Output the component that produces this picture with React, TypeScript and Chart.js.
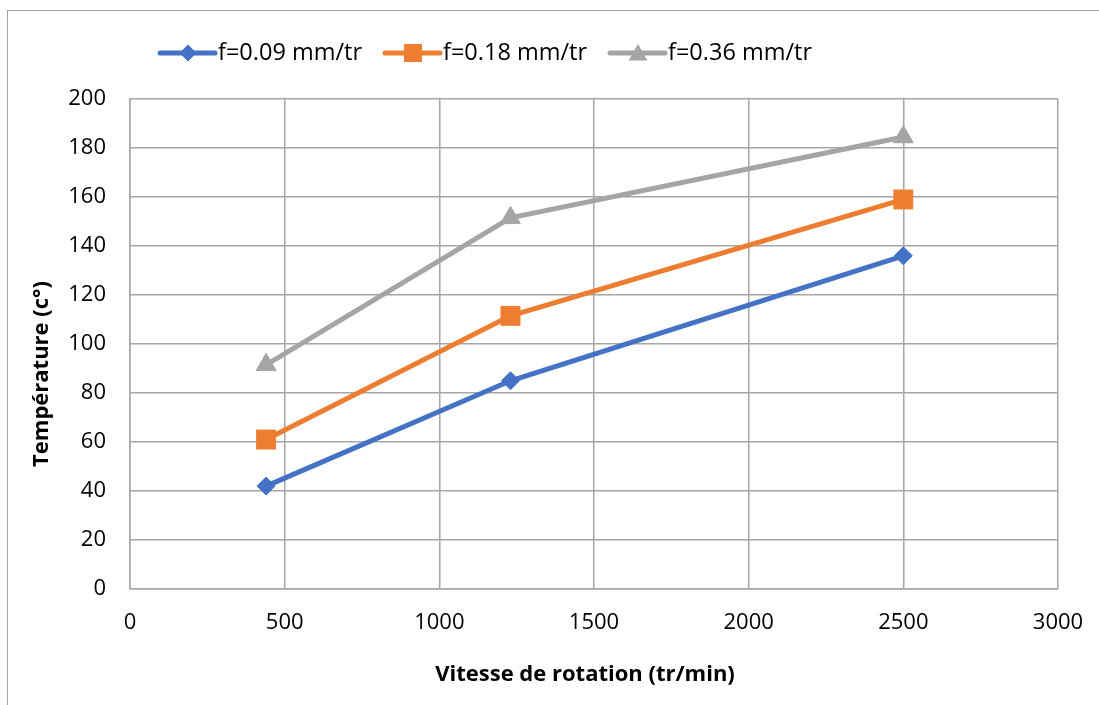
import React, { useEffect, useRef } from 'react';
import { Chart, registerables } from 'chart.js';

Chart.register(...registerables);

// ---- data ----
const speeds = [440, 1230, 2500];
const seriesLabels = ['f=0.09 mm/tr', 'f=0.18 mm/tr', 'f=0.36 mm/tr'];
const temp009 = [42, 85, 136];
const temp018 = [61, 111.5, 159];
const temp036 = [91.5, 151.5, 184.5];
const xTickValues = [0, 500, 1000, 1500, 2000, 2500, 3000];
const yTickValues = [0, 20, 40, 60, 80, 100, 120, 140, 160, 180, 200];
const xTitle = 'Vitesse de rotation (tr/min)';
const yTitle = 'Température (c°)';

const colors = ['#4472C4', '#ED7D31', '#A5A5A5'];
const shapes = ['rectRot', 'rect', 'triangle'];
const radii = [9, 13.4, 11.5];
const FONT = '"Open Sans", "Noto Sans", sans-serif';

function drawMarker(ctx: CanvasRenderingContext2D, shape: string, x: number, y: number, r: number) {
  ctx.beginPath();
  if (shape === 'rectRot') {
    ctx.moveTo(x - r, y);
    ctx.lineTo(x, y - r);
    ctx.lineTo(x + r, y);
    ctx.lineTo(x, y + r);
  } else if (shape === 'rect') {
    const s = Math.SQRT1_2 * r;
    ctx.rect(x - s, y - s, 2 * s, 2 * s);
  } else {
    ctx.moveTo(x, y - r);
    ctx.lineTo(x + 0.866 * r, y + 0.5 * r);
    ctx.lineTo(x - 0.866 * r, y + 0.5 * r);
  }
  ctx.closePath();
  ctx.fill();
}

const decorPlugin = {
  id: 'decor',
  afterDraw(chart: any) {
    const ctx: CanvasRenderingContext2D = chart.ctx;
    ctx.save();
    // legend
    const starts = [160, 385, 610];
    const ly = 53;
    ctx.font = `23.5px ${FONT}`;
    ctx.textBaseline = 'middle';
    ctx.textAlign = 'left';
    seriesLabels.forEach((label, i) => {
      const x0 = starts[i];
      ctx.strokeStyle = colors[i];
      ctx.fillStyle = colors[i];
      ctx.lineWidth = 5;
      ctx.lineCap = 'round';
      ctx.beginPath();
      ctx.moveTo(x0, ly);
      ctx.lineTo(x0 + 55, ly);
      ctx.stroke();
      drawMarker(ctx, shapes[i], x0 + 28, ly + (shapes[i] === 'triangle' ? 2 : 0), radii[i] * 0.95);
      ctx.fillStyle = '#000';
      ctx.fillText(label, x0 + 58, ly);
    });
    // axis titles
    ctx.font = `bold 22px ${FONT}`;
    ctx.fillStyle = '#000';
    ctx.textAlign = 'center';
    ctx.fillText(xTitle, 585, 675);
    ctx.translate(42, 374);
    ctx.rotate(-Math.PI / 2);
    ctx.fillText(yTitle, 0, 0);
    ctx.restore();
  },
};

export default function App() {
  const ref = useRef<HTMLCanvasElement | null>(null);

  useEffect(() => {
    if (!ref.current) return;
    const mk = (vals: number[]) => speeds.map((s, i) => ({ x: s, y: vals[i] }));
    const all = [temp009, temp018, temp036];
    const chart = new Chart(ref.current, {
      type: 'line',
      data: {
        datasets: all.map((vals, i) => ({
          label: seriesLabels[i],
          data: mk(vals),
          borderColor: colors[i],
          backgroundColor: colors[i],
          borderWidth: 5,
          pointStyle: shapes[i] as any,
          pointRadius: radii[i],
          pointBorderWidth: 1,
          pointBackgroundColor: colors[i],
          pointBorderColor: colors[i],
          tension: 0,
          fill: false,
        })),
      },
      options: {
        responsive: false,
        animation: false,
        devicePixelRatio: 1,
        layout: { padding: { top: 99, right: 41, left: 0, bottom: 0 } },
        plugins: {
          legend: { display: false },
          tooltip: { enabled: false },
        },
        scales: {
          x: {
            type: 'linear',
            min: 0,
            max: 3000,
            afterBuildTicks: (scale: any) => {
              scale.ticks = xTickValues.map((v) => ({ value: v }));
            },
            afterFit: (scale: any) => {
              scale.height = 116;
              scale.paddingLeft = 0;
              scale.paddingRight = 0;
            },
            ticks: {
              padding: 21,
              color: '#000',
              font: { family: FONT, size: 22 },
              maxRotation: 0,
              callback: (v: any) => String(v),
            },
            grid: { color: '#A6A6A6', lineWidth: 1.5, drawTicks: false },
            border: { color: '#A6A6A6', width: 1.5 },
          },
          y: {
            type: 'linear',
            min: 0,
            max: 200,
            afterBuildTicks: (scale: any) => {
              scale.ticks = yTickValues.map((v) => ({ value: v }));
            },
            afterFit: (scale: any) => {
              scale.width = 130;
              scale.paddingTop = 0;
              scale.paddingBottom = 0;
            },
            ticks: {
              padding: 24,
              color: '#000',
              font: { family: FONT, size: 22 },
              callback: (v: any) => String(v),
            },
            grid: { color: '#A6A6A6', lineWidth: 1.5, drawTicks: false },
            border: { color: '#A6A6A6', width: 1.5 },
          },
        },
      },
      plugins: [decorPlugin],
    });
    return () => chart.destroy();
  }, []);

  return (
    <div
      style={{
        position: 'fixed',
        left: 0,
        top: 0,
        width: 1099,
        height: 705,
        overflow: 'hidden',
        background: '#fff',
      }}
    >
      <div
        style={{
          position: 'absolute',
          left: 7,
          top: 10,
          width: 1200,
          height: 800,
          border: '1.5px solid #A0A0A0',
        }}
      />
      <canvas
        ref={ref}
        width={1099}
        height={705}
        style={{ position: 'absolute', left: 0, top: 0, width: 1099, height: 705 }}
      />
    </div>
  );
}
